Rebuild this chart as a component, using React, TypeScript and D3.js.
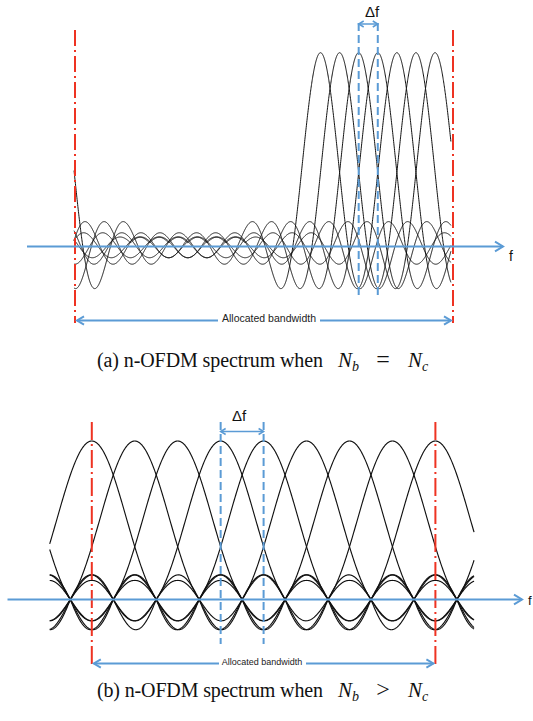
import React from "react";
import * as d3 from "d3";

// subcarrier centres, in units of Δf from the left edge of the allocated band
const centresA = [12.86, 13.86, 14.86, 15.86, 16.86, 17.86, 18.86];
const centresB = [0, 1, 2, 3, 4, 5, 6, 7, 8];

// band edges (red lines), plotted span and spectral wrap period
const bandA = [0, 19.8];
const plotA = [-0.05, 19.69];
const periodA = 19.9;
const bandB = [0, 8];
const plotB = [-0.98, 8.9];
const periodB = 10;

// the two subcarriers marked with Δf
const deltaA = [14.86, 15.86];
const deltaB = [3, 4];

const BLUE = "#5b9bd5";
const RED = "#ee3322";
const SANS = "Liberation Sans, Arial, Helvetica, sans-serif";
const SERIF = "Liberation Serif, Times New Roman, Times, serif";

// (a): sinc subcarriers, zeros every 1.45 Δf
function sincLobe(d: number) {
  const u = (Math.PI * d) / 1.45;
  return Math.abs(u) < 1e-6 ? 1 : Math.sin(u) / u;
}

// (b): main lobe 1.5 Δf wide each side, sidelobes every Δf
function wideLobe(d: number) {
  const a = Math.abs(d);
  if (Math.abs(a - 0.5) < 1e-4) return Math.PI / 4;
  if (a <= 1.5) return Math.cos(Math.PI * a) / (1 - 4 * a * a);
  return -0.19 * Math.pow(2 / a, 0.5) * Math.cos(Math.PI * a);
}

function wrapped(shape: (d: number) => number, x: number, c: number, period: number) {
  let d = x - c;
  d -= period * Math.round(d / period);
  return shape(d);
}

function samples(span: number[], step = 0.01) {
  const out: number[] = [];
  for (let x = span[0]; x <= span[1] + 1e-9; x += step) out.push(x);
  return out;
}

function chevron(x: number, y: number, dir: number, s: number) {
  return `M${x - dir * s},${y - s * 0.6}L${x},${y}L${x - dir * s},${y + s * 0.6}`;
}

const Caption = ({ y, label, op }: { y: number; label: string; op: string }) => (
  <g style={{ fontFamily: SERIF, fontSize: 20 }} fill="#111">
    <text x={97} y={y} textLength={226} lengthAdjust="spacing">
      {label} n-OFDM spectrum when
    </text>
    <text x={338} y={y} style={{ fontStyle: "italic", fontSize: 21 }}>
      N<tspan style={{ fontSize: 14 }} dy={4}>b</tspan>
    </text>
    <text x={383} y={y} textAnchor="middle" style={{ fontSize: 24 }}>{op}</text>
    <text x={408} y={y} style={{ fontStyle: "italic", fontSize: 21 }}>
      N<tspan style={{ fontSize: 14 }} dy={4}>c</tspan>
    </text>
  </g>
);

const Panel = (p: {
  shape: (d: number) => number;
  centres: number[];
  band: number[];
  plot: number[];
  period: number;
  delta: number[];
  xr: number[];
  yr: number[];
  axisX: number[];
  redY: number[];
  dashY: number[];
  dfY: number;
  dfText: number[];
  fLabel: number[];
  fSize: number;
  bwY: number;
  bwGap: number[];
  bwText: number[];
  bwSize: number;
  lineW: number;
  dash: string;
}) => {
  const x = d3.scaleLinear().domain(p.band).range(p.xr);
  const y = d3.scaleLinear().domain([0, 1]).range(p.yr);
  const pts = samples(p.plot);
  const curves = p.centres.map((c) =>
    d3
      .line<number>()
      .x((v) => x(v))
      .y((v) => y(wrapped(p.shape, v, c, p.period)))(pts)
  );
  const y0 = y(0);
  const d0 = x(p.delta[0]);
  const d1 = x(p.delta[1]);
  const r0 = x(p.band[0]);
  const r1 = x(p.band[1]);
  return (
    <g>
      {curves.map((d, i) => (
        <path key={i} d={d || ""} fill="none" stroke="#111" strokeWidth={p.lineW} />
      ))}
      {/* band edges */}
      {[r0, r1].map((rx, i) => (
        <line key={i} x1={rx} x2={rx} y1={p.redY[0]} y2={p.redY[1]} stroke={RED} strokeWidth={2} strokeDasharray={p.dash} />
      ))}
      {/* frequency axis */}
      <line x1={p.axisX[0]} x2={p.axisX[1]} y1={y0} y2={y0} stroke={BLUE} strokeWidth={2} />
      <path d={chevron(p.axisX[1], y0, 1, 8)} fill="none" stroke={BLUE} strokeWidth={2} />
      <text x={p.fLabel[0]} y={p.fLabel[1]} style={{ fontFamily: SANS, fontSize: p.fSize }} fill="#111">f</text>
      {/* Δf marker */}
      {[d0, d1].map((dx, i) => (
        <line key={i} x1={dx} x2={dx} y1={p.dashY[0]} y2={p.dashY[1]} stroke={BLUE} strokeWidth={2} strokeDasharray="8,4" />
      ))}
      <line x1={d0} x2={d1} y1={p.dfY} y2={p.dfY} stroke={BLUE} strokeWidth={1.5} />
      <path d={chevron(d0, p.dfY, -1, 5)} fill="none" stroke={BLUE} strokeWidth={1.5} />
      <path d={chevron(d1, p.dfY, 1, 5)} fill="none" stroke={BLUE} strokeWidth={1.5} />
      <text x={p.dfText[0]} y={p.dfText[1]} textAnchor="middle" style={{ fontFamily: SANS, fontSize: 15 }} fill="#111">Δf</text>
      {/* allocated bandwidth */}
      <line x1={r0 + 2} x2={p.bwGap[0]} y1={p.bwY} y2={p.bwY} stroke={BLUE} strokeWidth={2} />
      <line x1={p.bwGap[1]} x2={r1 - 2} y1={p.bwY} y2={p.bwY} stroke={BLUE} strokeWidth={2} />
      <path d={chevron(r0 + 2, p.bwY, -1, 7)} fill="none" stroke={BLUE} strokeWidth={2} />
      <path d={chevron(r1 - 2, p.bwY, 1, 7)} fill="none" stroke={BLUE} strokeWidth={2} />
      <text x={p.bwText[0]} y={p.bwText[1]} textAnchor="middle" style={{ fontFamily: SANS, fontSize: p.bwSize }} fill="#222">Allocated bandwidth</text>
    </g>
  );
};

export default function App() {
  return (
    <svg width={533} height={721} style={{ position: "absolute", left: 0, top: 0, background: "#fff" }}>
      <Panel
        shape={sincLobe}
        centres={centresA}
        band={bandA}
        plot={plotA}
        period={periodA}
        delta={deltaA}
        xr={[75, 453]}
        yr={[246.5, 52.7]}
        axisX={[27, 503]}
        redY={[30, 323]}
        dashY={[23, 297]}
        dfY={24}
        dfText={[372, 17]}
        fLabel={[509, 261]}
        fSize={14}
        bwY={320.5}
        bwGap={[218, 320]}
        bwText={[269, 322]}
        bwSize={10.5}
        lineW={1}
        dash="16,4,2,4"
      />
      <Caption y={367} label="(a)" op="=" />
      <Panel
        shape={wideLobe}
        centres={centresB}
        band={bandB}
        plot={plotB}
        period={periodB}
        delta={deltaB}
        xr={[91.8, 435.4]}
        yr={[599.5, 441]}
        axisX={[7.5, 522]}
        redY={[422, 666]}
        dashY={[422, 644]}
        dfY={431.5}
        dfText={[239, 421]}
        fLabel={[528, 605]}
        fSize={13}
        bwY={663.5}
        bwGap={[219, 306]}
        bwText={[262, 664.5]}
        bwSize={9}
        lineW={1.15}
        dash="18,4,2,4"
      />
      <Caption y={697} label="(b)" op=">" />
    </svg>
  );
}
